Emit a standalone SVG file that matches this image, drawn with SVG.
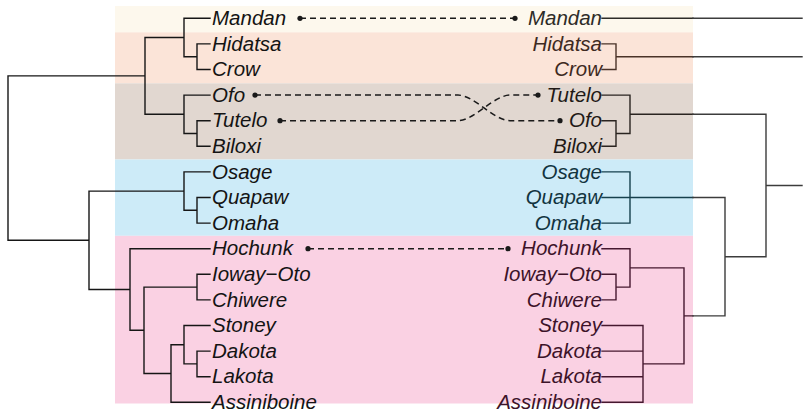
<svg xmlns="http://www.w3.org/2000/svg" width="803" height="413" viewBox="0 0 803 413">
  <style>
    .band { stroke: none; }
    .lbl { font-family: "Liberation Sans", Arial, sans-serif; font-style: italic; font-size: 20.5px; }
    .left { fill: #141414; }
    .right { text-anchor: end; }
    .tree { fill: none; stroke-width: 1.4; stroke-linecap: square; }
    .tl { stroke: #161616; }
    .out { stroke: #3c3c3c; }
    .c-cream { stroke: #2e2c28; }
    .c-peach { stroke: #4a3328; }
    .c-taupe { stroke: #2a2420; }
    .c-blue { stroke: #16404d; }
    .c-pink { stroke: #45182f; }
    .t-cream { fill: #2e2c28; }
    .t-peach { fill: #3e2a22; }
    .t-taupe { fill: #1f1a17; }
    .t-blue { fill: #12343f; }
    .t-pink { fill: #3d1329; }
    .dash { fill: none; stroke: #1a1a1a; stroke-width: 1.5; stroke-dasharray: 6 4; }
    .dot { fill: #1a1a1a; }
  </style>

  <!-- subgroup bands -->
  <g id="bands">
    <rect class="band" x="115" y="6" width="578" height="26.3" fill="#fdf8ed"/>
    <rect class="band" x="115" y="32.3" width="578" height="51" fill="#fbe4d8"/>
    <rect class="band" x="115" y="83.3" width="578" height="76.2" fill="#e1d7d0"/>
    <rect class="band" x="115" y="159.5" width="578" height="76.3" fill="#cdebf8"/>
    <rect class="band" x="115" y="235.8" width="578" height="167.7" fill="#fad1e3"/>
  </g>

  <!-- connectors: left tree, right tree, cross-links -->
  <g id="connectors">
    <path class="tree tl" d="
      M210,43.9 H197 V69.5 H210 M197,56.7 H184
      M210,18.3 H184 V56.7 M184,37.5 H145
      M210,120.7 H197 V146.3 H210 M197,133.5 H184
      M210,95.1 H184 V133.5 M184,114.3 H145
      M145,37.5 V114.3 M145,75.9 H8 V240.3 H89
      M210,197.5 H197 V223.1 H210 M197,210.3 H184
      M210,171.9 H184 V210.3 M184,191.1 H89
      M210,274.3 H197 V299.9 H210 M197,287.1 H144
      M210,351.1 H197 V376.7 H210 M197,363.9 H184
      M210,325.5 H184 V363.9 M184,344.7 H171
      M210,402.3 H171 V344.7 M171,373.5 H144
      M144,287.1 V373.5 M144,330.3 H130
      M210,248.7 H130 V330.3 M130,289.5 H89
      M89,191.1 V289.5"/>

    <path class="tree c-cream" d="M602,18.3 H693"/>
    <path class="tree c-peach" d="M602,43.9 H616 V69.5 H602 M616,56.7 H693"/>
    <path class="tree c-taupe" d="M602,120.7 H616 V146.3 H602 M616,133.5 H630 M602,95.1 H630 V133.5 M630,114.3 H693"/>
    <path class="tree c-blue" d="M602,171.9 H630 V223.1 H602 M602,197.5 H693"/>
    <path class="tree c-pink" d="M602,274.3 H616 V299.9 H602 M616,287.1 H630
      M602,248.7 H630 V287.1 M630,267.9 H684
      M602,325.5 H643 V402.3 H602 M602,351.1 H643 M602,376.7 H643 M643,363.9 H684
      M684,267.9 V363.9 M684,315.9 H693"/>
    <path class="tree out" d="M693,18.3 H802 M693,56.7 H802
      M693,114.3 H766 V256.7 M766,185.5 H802
      M693,197.5 H725 V315.9 H693 M725,256.7 H766"/>

    <path class="dash" d="M300,18.3 H515"/>
    <path class="dash" d="M255,95.1 H458 C474,95.1 494,120.7 510,120.7 H560"/>
    <path class="dash" d="M280,120.7 H458 C474,120.7 494,95.1 510,95.1 H538"/>
    <path class="dash" d="M308,248.7 H508"/>
    <circle class="dot" cx="300" cy="18.3" r="2.6"/>
    <circle class="dot" cx="515" cy="18.3" r="2.6"/>
    <circle class="dot" cx="255" cy="95.1" r="2.6"/>
    <circle class="dot" cx="280" cy="120.7" r="2.6"/>
    <circle class="dot" cx="538" cy="95.1" r="2.6"/>
    <circle class="dot" cx="560" cy="120.7" r="2.6"/>
    <circle class="dot" cx="308" cy="248.7" r="2.6"/>
    <circle class="dot" cx="508" cy="248.7" r="2.6"/>
  </g>

  <!-- left leaves -->
  <g id="left-leaves" class="lbl left">
    <g id="l-mandan"><text x="212" y="25">Mandan</text></g>
    <g id="l-hidatsa"><text x="212" y="50.6">Hidatsa</text></g>
    <g id="l-crow"><text x="212" y="76.2">Crow</text></g>
    <g id="l-ofo"><text x="212" y="101.8">Ofo</text></g>
    <g id="l-tutelo"><text x="212" y="127.4">Tutelo</text></g>
    <g id="l-biloxi"><text x="212" y="153">Biloxi</text></g>
    <g id="l-osage"><text x="212" y="178.6">Osage</text></g>
    <g id="l-quapaw"><text x="212" y="204.2">Quapaw</text></g>
    <g id="l-omaha"><text x="212" y="229.8">Omaha</text></g>
    <g id="l-hochunk"><text x="212" y="255.4">Hochunk</text></g>
    <g id="l-ioway-oto"><text x="212" y="281">Ioway−Oto</text></g>
    <g id="l-chiwere"><text x="212" y="306.6">Chiwere</text></g>
    <g id="l-stoney"><text x="212" y="332.2">Stoney</text></g>
    <g id="l-dakota"><text x="212" y="357.8">Dakota</text></g>
    <g id="l-lakota"><text x="212" y="383.4">Lakota</text></g>
    <g id="l-assiniboine"><text x="212" y="409">Assiniboine</text></g>
  </g>

  <!-- right leaves -->
  <g id="right-leaves" class="lbl right">
    <g id="r-mandan"><text class="t-cream" x="602" y="25">Mandan</text></g>
    <g id="r-hidatsa"><text class="t-peach" x="602" y="50.6">Hidatsa</text></g>
    <g id="r-crow"><text class="t-peach" x="602" y="76.2">Crow</text></g>
    <g id="r-tutelo"><text class="t-taupe" x="602" y="101.8">Tutelo</text></g>
    <g id="r-ofo"><text class="t-taupe" x="602" y="127.4">Ofo</text></g>
    <g id="r-biloxi"><text class="t-taupe" x="602" y="153">Biloxi</text></g>
    <g id="r-osage"><text class="t-blue" x="602" y="178.6">Osage</text></g>
    <g id="r-quapaw"><text class="t-blue" x="602" y="204.2">Quapaw</text></g>
    <g id="r-omaha"><text class="t-blue" x="602" y="229.8">Omaha</text></g>
    <g id="r-hochunk"><text class="t-pink" x="602" y="255.4">Hochunk</text></g>
    <g id="r-ioway-oto"><text class="t-pink" x="602" y="281">Ioway−Oto</text></g>
    <g id="r-chiwere"><text class="t-pink" x="602" y="306.6">Chiwere</text></g>
    <g id="r-stoney"><text class="t-pink" x="602" y="332.2">Stoney</text></g>
    <g id="r-dakota"><text class="t-pink" x="602" y="357.8">Dakota</text></g>
    <g id="r-lakota"><text class="t-pink" x="602" y="383.4">Lakota</text></g>
    <g id="r-assiniboine"><text class="t-pink" x="602" y="409">Assiniboine</text></g>
  </g>
</svg>
